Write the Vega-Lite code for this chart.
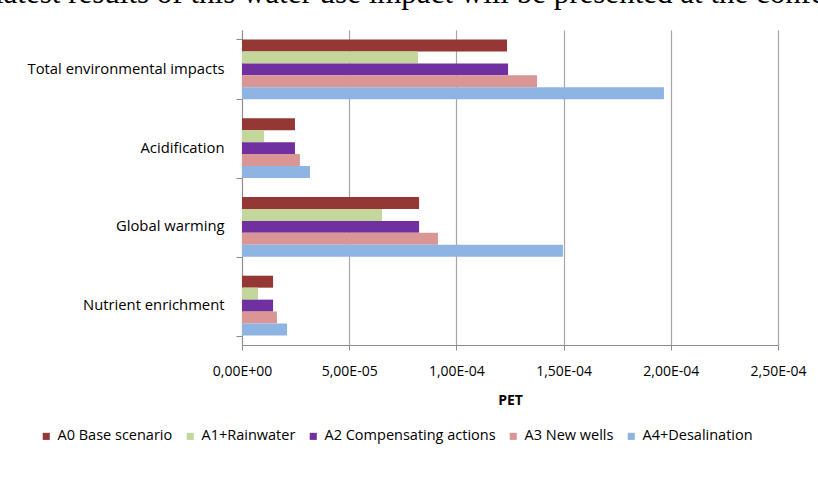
{
  "$schema": "https://vega.github.io/schema/vega-lite/v6.json",
  "autosize": "none",
  "width": 536,
  "height": 315,
  "padding": {"left": 242, "top": 30, "right": 40, "bottom": 148},
  "background": "white",
  "title": {
    "text": "latest results of this water use impact will be presented at the conference",
    "anchor": "start",
    "frame": "group",
    "dx": -247,
    "offset": -12,
    "baseline": "alphabetic",
    "font": "Liberation Serif",
    "fontSize": 31,
    "fontWeight": "normal",
    "color": "#000000"
  },
  "data": {
    "values": [
      {"category": "Total environmental impacts", "scenario": "A0 Base scenario", "value": 0.0001236},
      {"category": "Total environmental impacts", "scenario": "A1+Rainwater", "value": 0.0000821},
      {"category": "Total environmental impacts", "scenario": "A2 Compensating actions", "value": 0.0001241},
      {"category": "Total environmental impacts", "scenario": "A3 New wells", "value": 0.0001376},
      {"category": "Total environmental impacts", "scenario": "A4+Desalination", "value": 0.0001968},
      {"category": "Acidification", "scenario": "A0 Base scenario", "value": 0.0000247},
      {"category": "Acidification", "scenario": "A1+Rainwater", "value": 0.0000103},
      {"category": "Acidification", "scenario": "A2 Compensating actions", "value": 0.0000247},
      {"category": "Acidification", "scenario": "A3 New wells", "value": 0.000027},
      {"category": "Acidification", "scenario": "A4+Desalination", "value": 0.0000317},
      {"category": "Global warming", "scenario": "A0 Base scenario", "value": 0.0000826},
      {"category": "Global warming", "scenario": "A1+Rainwater", "value": 0.0000653},
      {"category": "Global warming", "scenario": "A2 Compensating actions", "value": 0.0000826},
      {"category": "Global warming", "scenario": "A3 New wells", "value": 0.0000914},
      {"category": "Global warming", "scenario": "A4+Desalination", "value": 0.0001497},
      {"category": "Nutrient enrichment", "scenario": "A0 Base scenario", "value": 0.0000145},
      {"category": "Nutrient enrichment", "scenario": "A1+Rainwater", "value": 0.0000075},
      {"category": "Nutrient enrichment", "scenario": "A2 Compensating actions", "value": 0.0000145},
      {"category": "Nutrient enrichment", "scenario": "A3 New wells", "value": 0.0000163},
      {"category": "Nutrient enrichment", "scenario": "A4+Desalination", "value": 0.000021}
    ]
  },
  "mark": {"type": "bar"},
  "encoding": {
    "y": {
      "field": "category",
      "type": "nominal",
      "sort": null,
      "scale": {"paddingInner": 0.24, "paddingOuter": 0.12},
      "axis": {
        "title": null,
        "tickBand": "extent",
        "tickSize": 6,
        "labelPadding": 12,
        "labelFont": "Open Sans",
        "labelFontSize": 14.8,
        "labelColor": "#000000",
        "labelLimit": 300,
        "domainColor": "#8c8c8c",
        "tickColor": "#8c8c8c",
        "grid": false
      }
    },
    "yOffset": {
      "field": "scenario",
      "type": "nominal",
      "sort": null,
      "scale": {"paddingInner": 0, "paddingOuter": 0}
    },
    "x": {
      "field": "value",
      "type": "quantitative",
      "scale": {"domain": [0, 0.00025], "nice": false},
      "axis": {
        "title": "PET",
        "titleFont": "Open Sans",
        "titleFontSize": 14,
        "titleFontWeight": "bold",
        "titleColor": "#000000",
        "titlePadding": 15,
        "values": [0, 0.00005, 0.0001, 0.00015, 0.0002, 0.00025],
        "labelExpr": "replace(replace(replace(format(datum.value, '.2e'), '.', ','), 'e-', 'E-0'), 'e+', 'E+0')",
        "labelFont": "Open Sans",
        "labelFontSize": 14,
        "labelColor": "#000000",
        "labelPadding": 14,
        "labelFlush": false,
        "tickSize": 5,
        "tickColor": "#8c8c8c",
        "domainColor": "#8c8c8c",
        "grid": true,
        "gridColor": "#a6a6a6",
        "gridWidth": 1.2
      }
    },
    "color": {
      "field": "scenario",
      "type": "nominal",
      "sort": null,
      "scale": {
        "domain": ["A0 Base scenario", "A1+Rainwater", "A2 Compensating actions", "A3 New wells", "A4+Desalination"],
        "range": ["#953735", "#C3D69B", "#7030A0", "#D99694", "#8EB4E3"]
      },
      "legend": {
        "title": null,
        "orient": "none",
        "direction": "horizontal",
        "legendX": -203,
        "legendY": 399,
        "symbolType": "square",
        "symbolSize": 50,
        "symbolStrokeWidth": 0,
        "labelFont": "Open Sans",
        "labelFontSize": 14.5,
        "labelColor": "#000000",
        "labelOffset": 4,
        "columnPadding": 10,
        "labelLimit": 300
      }
    }
  },
  "config": {
    "view": {"stroke": null}
  }
}
